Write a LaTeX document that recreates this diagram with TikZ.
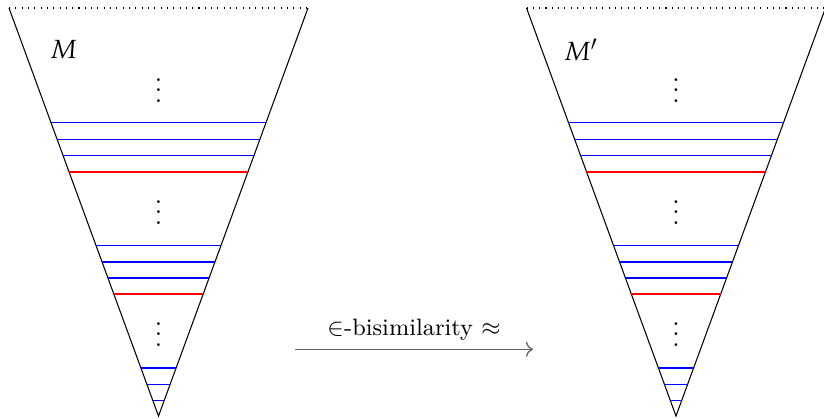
\documentclass[tikz,border=0pt]{standalone}
\usepackage{amsmath, amssymb}
\usepackage{mathpazo}
\usepackage{tikz}
\usetikzlibrary{arrows.meta, positioning, calc}

\begin{document}
\begin{tikzpicture}[x=0.38pt, y=-0.38pt,
      lado/.style={black, line width=0.4pt},
      borde/.style={black, dotted},
      nivel/.style={blue, line width=0.4pt},
      corte/.style={red, line width=0.8pt},
      puntos/.style={anchor=base, inner sep=0pt},
      flecha/.style={->, black!60, line width=0.5pt}]
    \useasboundingbox (0,0) rectangle (824,418);
    % los dos modelos
    \foreach \cx/\nom/\etq in {158.5/izq/M, 676/der/M'} {
      \coordinate (\nom-a) at ({\cx-149.5},8);
      \coordinate (\nom-b) at ({\cx+149.5},8);
      \coordinate (\nom-v) at (\cx,416);
      \draw[borde] (\nom-a) -- (\nom-b);
      \draw[lado] (\nom-a) -- (\nom-v) -- (\nom-b);
      \node (\nom-m) at ({\cx-95},50) {$\etq$};
      \foreach \y/\est in {122.7/nivel, 139.3/nivel, 155.3/nivel, 171.7/corte,
                           245.3/nivel, 262/nivel, 278/nivel, 294.3/corte,
                           368/nivel, 384.3/nivel, 400.3/nivel}
        \draw[\est] ($(\nom-v)!{(416-\y)/408}!(\nom-a)$)
                 -- ($(\nom-v)!{(416-\y)/408}!(\nom-b)$);
      \foreach \y/\k in {102.3/1, 224.5/2, 346.5/3}
        \node[puntos] (\nom-p\k) at (\cx,\y) {$\vdots$};
    }
    % la relacion entre ambos
    \coordinate (ini) at (295,349.3);
    \coordinate (fin) at (533,349.3);
    \draw[flecha] (ini) -- node[above, text=black, font=\small] (rel)
      {$\in$-bisimilarity $\approx$} (fin);
  \end{tikzpicture}
\end{document}
